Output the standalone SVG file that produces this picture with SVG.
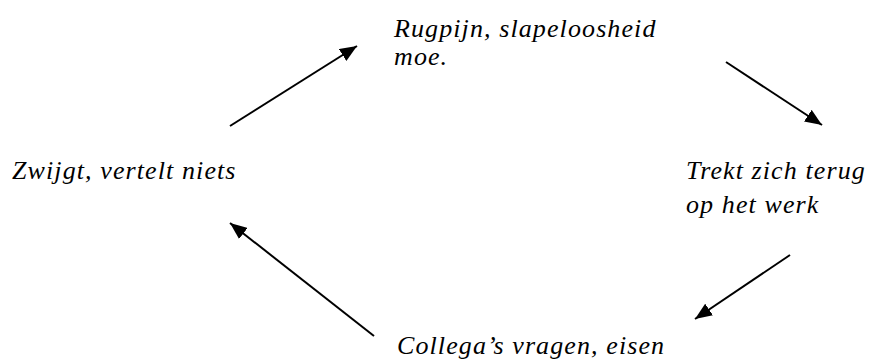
<svg xmlns="http://www.w3.org/2000/svg" width="875" height="360" viewBox="0 0 875 360">
<style>
text{font-style:italic;font-size:26px;fill:#000;letter-spacing:1.1px}
.c{stroke:#000;stroke-width:2;fill:none}
</style>
<defs>
<marker id="ah" viewBox="0 0 10 10" refX="10" refY="5" markerWidth="8.5" markerHeight="7" markerUnits="strokeWidth" orient="auto" preserveAspectRatio="none">
<path d="M0,0L10,5L0,10z" fill="#000"/>
</marker>
</defs>
<rect width="875" height="360" fill="#fff"/>
<g font-family="Liberation Serif, serif">
<g id="n1"><text x="394" y="37">Rugpijn, slapeloosheid</text><text x="394" y="65" letter-spacing="2">moe.</text></g>
<g id="n2"><text x="686" y="179">Trekt zich terug</text><text x="686" y="213">op het werk</text></g>
<g id="n3"><text x="397" y="354">Collega’s vragen, eisen</text></g>
<g id="n4"><text x="12" y="179" letter-spacing="1.7">Zwijgt, vertelt niets</text></g>
</g>
<g id="connectors">
<line class="c" x1="230" y1="126" x2="357" y2="46" marker-end="url(#ah)"/>
<line class="c" x1="726" y1="62" x2="822" y2="125" marker-end="url(#ah)"/>
<line class="c" x1="790" y1="255" x2="695" y2="319" marker-end="url(#ah)"/>
<line class="c" x1="374" y1="336" x2="230" y2="223" marker-end="url(#ah)"/>
</g>
</svg>
